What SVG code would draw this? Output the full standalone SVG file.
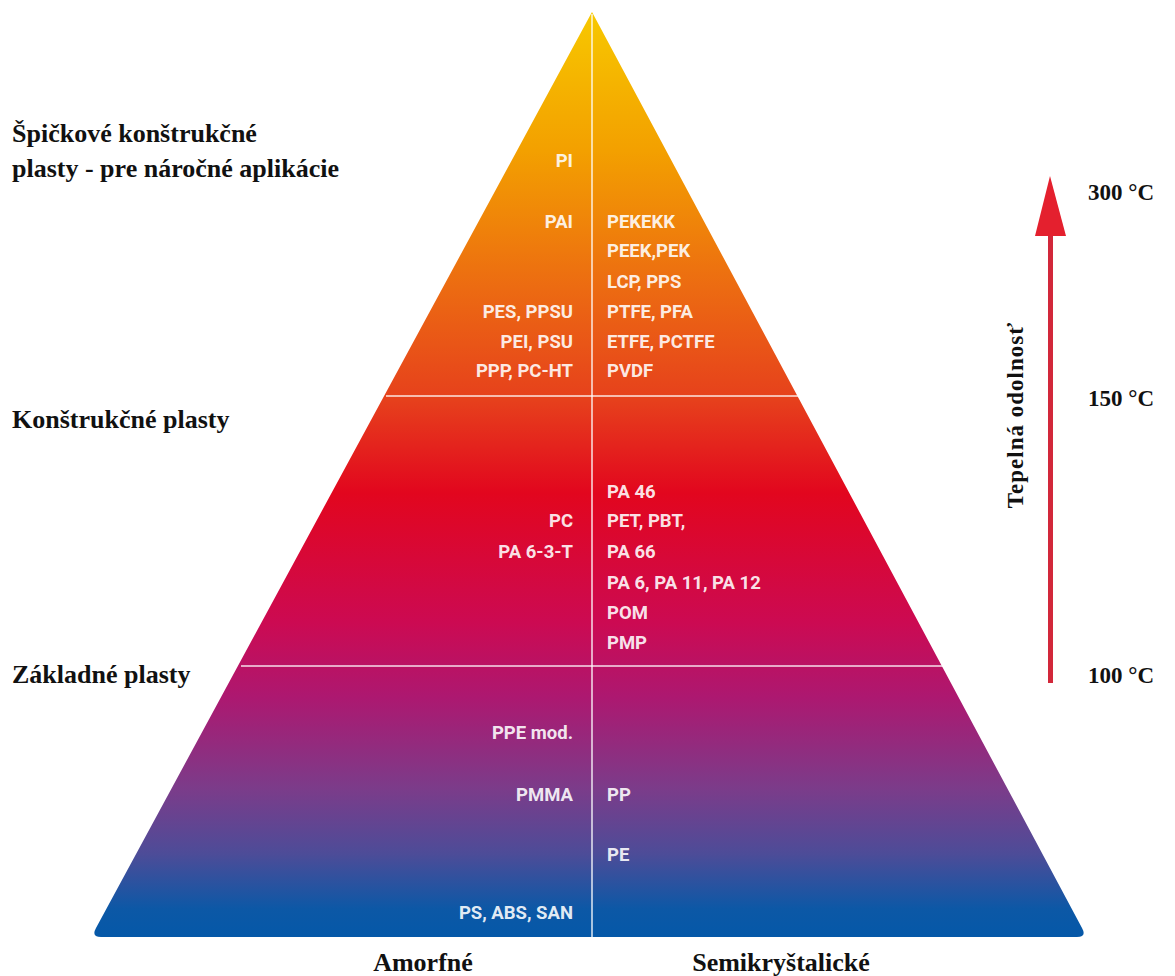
<svg xmlns="http://www.w3.org/2000/svg" width="1175" height="976" viewBox="0 0 1175 976">
<defs>
<linearGradient id="pg" x1="0" y1="12" x2="0" y2="937" gradientUnits="userSpaceOnUse">
<stop offset="0" stop-color="#f7c800"/>
<stop offset="0.15" stop-color="#f3a000"/>
<stop offset="0.3" stop-color="#ec6a12"/>
<stop offset="0.42" stop-color="#e6401c"/>
<stop offset="0.52" stop-color="#e2061e"/>
<stop offset="0.66" stop-color="#cc0a52"/>
<stop offset="0.74" stop-color="#ad1870"/>
<stop offset="0.84" stop-color="#7b3c8a"/>
<stop offset="0.91" stop-color="#4d4c98"/>
<stop offset="0.97" stop-color="#0c58a6"/>
<stop offset="1" stop-color="#0558a8"/>
</linearGradient>
</defs>
<style>
.p{font-family:Roboto,"Open Sans",sans-serif;font-weight:bold;font-size:18.5px;fill:#fff;fill-opacity:0.9}
.r{text-anchor:end}
.h{font-family:"Liberation Serif",serif;font-weight:bold;font-size:26px;fill:#111}
.t{font-family:"Liberation Serif",serif;font-weight:bold;font-size:23px;fill:#111}
.sep{stroke:#fff;stroke-opacity:0.65;stroke-width:2;fill:none}
</style>
<rect width="1175" height="976" fill="#fff"/>
<g id="pyramid">
<path d="M592,12 L1082,928 Q1087,937 1077,937 L101,937 Q91,937 96,928 Z" fill="url(#pg)"/>
</g>
<g id="connectors">
<line class="sep" x1="592" y1="14" x2="592" y2="937"/>
<line class="sep" x1="386" y1="396" x2="798" y2="396"/>
<line class="sep" x1="241" y1="666" x2="943" y2="666"/>
</g>
<g id="amorphous-labels">
<text class="p r" x="573" y="167">PI</text>
<text class="p r" x="573" y="228">PAI</text>
<text class="p r" x="573" y="318">PES, PPSU</text>
<text class="p r" x="573" y="348">PEI, PSU</text>
<text class="p r" x="573" y="377">PPP, PC-HT</text>
<text class="p r" x="573" y="527">PC</text>
<text class="p r" x="573" y="558">PA 6-3-T</text>
<text class="p r" x="573" y="739">PPE mod.</text>
<text class="p r" x="573" y="801">PMMA</text>
<text class="p r" x="573" y="919">PS, ABS, SAN</text>
</g>
<g id="semicrystalline-labels">
<text class="p" x="607" y="228">PEKEKK</text>
<text class="p" x="607" y="257">PEEK,PEK</text>
<text class="p" x="607" y="288">LCP, PPS</text>
<text class="p" x="607" y="318">PTFE, PFA</text>
<text class="p" x="607" y="348">ETFE, PCTFE</text>
<text class="p" x="607" y="377">PVDF</text>
<text class="p" x="607" y="498">PA 46</text>
<text class="p" x="607" y="527">PET, PBT,</text>
<text class="p" x="607" y="558">PA 66</text>
<text class="p" x="607" y="589">PA 6, PA 11, PA 12</text>
<text class="p" x="607" y="619">POM</text>
<text class="p" x="607" y="649">PMP</text>
<text class="p" x="607" y="801">PP</text>
<text class="p" x="607" y="861">PE</text>
</g>
<g id="category-labels">
<text class="h" x="12" y="142">Špičkové konštrukčné</text>
<text class="h" x="12" y="177">plasty - pre náročné aplikácie</text>
<text class="h" x="12" y="428">Konštrukčné plasty</text>
<text class="h" x="12" y="683">Základné plasty</text>
<text class="h" x="423" y="971" text-anchor="middle" font-size="25">Amorfné</text>
<text class="h" x="781" y="971" text-anchor="middle" font-size="25">Semikryštalické</text>
</g>
<g id="temperature-axis">
<rect x="1048" y="234" width="5" height="449" fill="#d2283a"/>
<polygon points="1050,176 1066,236 1035,236" fill="#e4202e"/>
<text class="t" transform="translate(1023,415) rotate(-90)" text-anchor="middle" font-size="22" letter-spacing="1">Tepelná odolnosť</text>
<text class="t" x="1088" y="200">300 °C</text>
<text class="t" x="1088" y="406">150 °C</text>
<text class="t" x="1088" y="683">100 °C</text>
</g>
</svg>
